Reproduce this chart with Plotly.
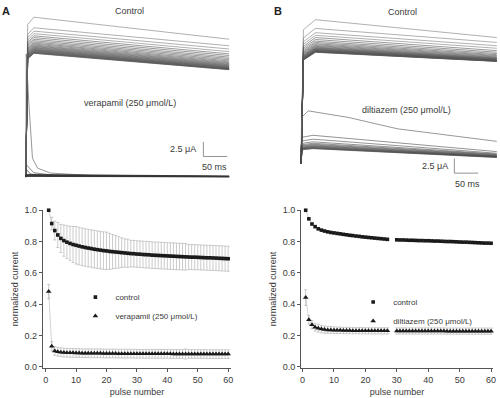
import plotly.graph_objects as go

W, H = 500, 398

def px(x):
    return x / W

def py(y):
    return 1 - y / H

# ---------------- data: normalized current vs pulse number ----------------
pulse = list(range(1, 61))

ctrl_A = [1.000, 0.915, 0.870, 0.842, 0.820, 0.806, 0.796, 0.788, 0.781, 0.776,
          0.771, 0.766, 0.762, 0.758, 0.755, 0.751, 0.748, 0.745, 0.742, 0.740,
          0.737, 0.735, 0.733, 0.731, 0.729, 0.727, 0.725, 0.723, 0.722, 0.720,
          0.719, 0.717, 0.716, 0.715, 0.713, 0.712, 0.711, 0.710, 0.709, 0.708,
          0.707, 0.706, 0.705, 0.704, 0.703, 0.702, 0.701, 0.700, 0.700, 0.699,
          0.698, 0.697, 0.696, 0.696, 0.695, 0.694, 0.693, 0.692, 0.691, 0.690]
ctrl_A_sd = [0.000, 0.040, 0.060, 0.080, 0.090, 0.100, 0.105, 0.110, 0.115, 0.120,
             0.120, 0.120, 0.120, 0.120, 0.120, 0.120, 0.120, 0.120, 0.120, 0.120,
             0.115, 0.110, 0.105, 0.100, 0.095, 0.090, 0.090, 0.085, 0.085, 0.085,
             0.085, 0.085, 0.085, 0.085, 0.085, 0.085, 0.085, 0.085, 0.085, 0.085,
             0.085, 0.085, 0.085, 0.085, 0.085, 0.085, 0.080, 0.080, 0.080, 0.080,
             0.080, 0.080, 0.080, 0.080, 0.080, 0.080, 0.080, 0.080, 0.080, 0.080]
vera = [0.480, 0.130, 0.100, 0.095, 0.092, 0.090, 0.089, 0.088, 0.088, 0.087,
        0.087, 0.086, 0.086, 0.086, 0.085, 0.085, 0.085, 0.085, 0.084, 0.084,
        0.084, 0.084, 0.084, 0.083, 0.083, 0.083, 0.083, 0.083, 0.083, 0.082,
        0.082, 0.082, 0.082, 0.082, 0.082, 0.082, 0.082, 0.082, 0.082, 0.082,
        0.082, 0.081, 0.081, 0.081, 0.081, 0.081, 0.081, 0.081, 0.081, 0.081,
        0.081, 0.081, 0.080, 0.080, 0.080, 0.080, 0.080, 0.080, 0.080, 0.080]
vera_sd = [0.045, 0.030, 0.028, 0.028, 0.028, 0.028, 0.028, 0.028, 0.028, 0.028,
           0.028, 0.028, 0.028, 0.028, 0.028, 0.028, 0.028, 0.028, 0.028, 0.028,
           0.028, 0.028, 0.028, 0.028, 0.028, 0.028, 0.028, 0.028, 0.028, 0.028,
           0.028, 0.028, 0.028, 0.028, 0.028, 0.028, 0.028, 0.028, 0.028, 0.028,
           0.028, 0.028, 0.028, 0.028, 0.028, 0.032, 0.028, 0.028, 0.028, 0.028,
           0.028, 0.028, 0.028, 0.028, 0.028, 0.028, 0.028, 0.028, 0.028, 0.028]

ctrl_B = [1.000, 0.945, 0.912, 0.895, 0.881, 0.873, 0.867, 0.862, 0.858, 0.855,
          0.852, 0.849, 0.846, 0.843, 0.840, 0.838, 0.835, 0.833, 0.830, 0.828,
          0.826, 0.824, 0.822, 0.820, 0.818, 0.816, 0.814, None, None, 0.811,
          0.810, 0.810, 0.809, 0.808, 0.808, 0.807, 0.806, 0.806, 0.805, 0.805,
          0.804, 0.803, 0.803, 0.802, 0.801, 0.800, 0.800, 0.799, 0.798, 0.797,
          0.796, 0.796, 0.795, 0.794, 0.793, 0.792, 0.791, 0.790, 0.790, 0.789]
dilt = [0.442, 0.300, 0.268, 0.252, 0.245, 0.240, 0.237, 0.235, 0.234, 0.233,
        0.232, 0.232, 0.231, 0.231, 0.231, 0.230, 0.230, 0.230, 0.230, 0.229,
        0.229, 0.229, 0.229, 0.229, 0.229, 0.229, 0.229, None, None, 0.228,
        0.228, 0.228, 0.228, 0.228, 0.228, 0.228, 0.228, 0.228, 0.228, 0.228,
        0.228, 0.228, 0.228, 0.228, 0.228, 0.227, 0.227, 0.227, 0.227, 0.227,
        0.227, 0.227, 0.227, 0.227, 0.227, 0.227, 0.227, 0.227, 0.227, 0.227]
dilt_sd = [0.050, 0.028, 0.026, 0.025, 0.025, 0.024, 0.023, 0.022, 0.022, 0.021,
           0.021, 0.021, 0.020, 0.020, 0.020, 0.020, 0.020, 0.020, 0.020, 0.020,
           0.020, 0.020, 0.020, 0.020, 0.020, 0.020, 0.020, None, None, 0.020,
           0.020, 0.020, 0.020, 0.020, 0.020, 0.020, 0.020, 0.020, 0.020, 0.020,
           0.020, 0.020, 0.020, 0.020, 0.020, 0.020, 0.020, 0.020, 0.020, 0.020,
           0.020, 0.020, 0.020, 0.020, 0.020, 0.020, 0.020, 0.020, 0.020, 0.020]

x_ticks = [0, 10, 20, 30, 40, 50, 60]
y_ticks = [0.0, 0.2, 0.4, 0.6, 0.8, 1.0]
y_tick_labels = ["0.0", "0.2", "0.4", "0.6", "0.8", "1.0"]

# ---------------- data: current sweeps (uA) ----------------
A_ctrl_peak = [27.25, 25.45, 24.88, 24.45, 24.08, 23.78, 23.50, 23.25, 23.03, 22.83,
               22.67, 22.50, 22.37, 22.25, 22.13, 22.03, 21.93, 21.83, 21.75, 21.67,
               21.60, 21.53, 21.47, 21.40, 21.33, 21.28, 21.23, 21.18, 21.13, 21.08]
A_ctrl_end = [23.50, 22.38, 21.83, 21.38, 21.00, 20.72, 20.45, 20.22, 20.00, 19.80,
              19.63, 19.48, 19.35, 19.23, 19.13, 19.03, 18.95, 18.87, 18.80, 18.73,
              18.67, 18.62, 18.57, 18.52, 18.47, 18.43, 18.40, 18.37, 18.33, 18.30]
A_end_ms = 427
A_vera_s1_t = [0, 1, 6.3, 14, 25, 52, 156, 427]
A_vera_s1_i = [0, 21.0, 12.7, 3.2, 1.5, 0.67, 0.17, 0.08]
A_vera_s2_t = [0, 1, 17, 73, 427]
A_vera_s2_i = [0, 2.1, 0.72, 0.17, 0.08]
A_vera_s3_t = [0, 1, 10, 40, 427]
A_vera_s3_i = [0, 1.3, 0.5, 0.15, 0.08]
A_vera_rest_start = [0.45, 0.38, 0.32, 0.27, 0.22, 0.18, 0.14, 0.10]
A_vera_rest_end = [0.16, 0.14, 0.12, 0.10, 0.08, 0.06, 0.04, 0.02]

B_ctrl_peak = [24.50, 23.00, 22.28, 21.83, 21.45, 21.12, 20.83, 20.60, 20.40, 20.23,
               20.08, 19.95, 19.83, 19.73, 19.65, 19.57, 19.50, 19.43, 19.37, 19.32,
               19.27, 19.22, 19.17, 19.13, 19.10, 19.07, 19.03, 19.00, 18.97, 18.93]
B_ctrl_end = [21.45, 20.62, 20.05, 19.62, 19.22, 18.95, 18.72, 18.53, 18.38, 18.25,
              18.13, 18.03, 17.95, 17.88, 17.82, 17.77, 17.72, 17.67, 17.63, 17.60,
              17.57, 17.53, 17.50, 17.48, 17.47, 17.45, 17.43, 17.42, 17.40, 17.38]
B_end_ms = 411
B_dilt_s1_t = [0, 1, 15, 99, 203, 307, 411]
B_dilt_s1_i = [0, 7.83, 8.95, 7.83, 5.88, 4.78, 3.75]
B_dilt_peak = [4.78, 4.12, 3.67, 3.42, 3.25, 3.12, 3.00, 2.90, 2.82, 2.73, 2.67, 2.60, 2.55, 2.50]
B_dilt_end = [2.00, 1.72, 1.58, 1.50, 1.42, 1.33, 1.28, 1.23, 1.18, 1.13, 1.10, 1.07, 1.03, 1.00]

SCALE_UA = 2.5
SCALE_MS = 50

# ---------------- styles ----------------
FONT = "Liberation Sans, Arial, sans-serif"
TXT = "#3a3a3a"
AX = "#555555"
TRACE_C = "#555555"

fig = go.Figure()

def sweep(t, i, xa, ya, color=TRACE_C, width=0.6):
    fig.add_trace(go.Scatter(x=t, y=i, mode="lines", xaxis=xa, yaxis=ya,
                             line=dict(color=color, width=width),
                             showlegend=False, hoverinfo="skip"))

for k, (pk, en) in enumerate(zip(A_ctrl_peak, A_ctrl_end)):
    sweep([0, 4, 17, A_end_ms], [0, 0.955 * pk, pk, en], "x", "y",
          "#7a7a7a" if k < 4 else TRACE_C)
sweep(A_vera_s1_t, A_vera_s1_i, "x", "y", "#6a6a6a", 0.7)
sweep(A_vera_s2_t, A_vera_s2_i, "x", "y", "#555555", 0.7)
sweep(A_vera_s3_t, A_vera_s3_i, "x", "y", "#444444", 0.7)
for s, e in zip(A_vera_rest_start, A_vera_rest_end):
    sweep([0, 1, A_end_ms], [0, s, e], "x", "y", "#333333", 0.7)

for k, (pk, en) in enumerate(zip(B_ctrl_peak, B_ctrl_end)):
    sweep([0, 5, 30, B_end_ms], [0, 0.93 * pk, pk, en], "x2", "y2",
          "#7a7a7a" if k < 4 else TRACE_C)
sweep(B_dilt_s1_t, B_dilt_s1_i, "x2", "y2", "#6a6a6a", 0.7)
for pk, en in zip(B_dilt_peak, B_dilt_end):
    sweep([0, 2, 25, B_end_ms], [0, 0.93 * pk, pk, en], "x2", "y2", "#4a4a4a", 0.6)

def scalebar(t0, i0, xa, ya):
    fig.add_trace(go.Scatter(x=[t0, t0, t0 + SCALE_MS], y=[i0 + SCALE_UA, i0, i0],
                             mode="lines", xaxis=xa, yaxis=ya,
                             line=dict(color="#777777", width=0.8),
                             showlegend=False, hoverinfo="skip"))

scalebar(372.9, 3.5, "x", "y")
scalebar(321.9, -1.667, "x2", "y2")

# ---------------- normalized current panels ----------------
EB = dict(type="data", color="#a8a8a8", thickness=0.6, width=1.5)

def conn(y, xa, ya):
    fig.add_trace(go.Scatter(x=pulse, y=y, mode="lines", xaxis=xa, yaxis=ya,
                             line=dict(color="#b5b5b5", width=0.6),
                             showlegend=False, hoverinfo="skip", cliponaxis=False))

conn(ctrl_A, "x3", "y3")
conn(vera, "x3", "y3")
conn(ctrl_B, "x4", "y4")
conn(dilt, "x4", "y4")

fig.add_trace(go.Scatter(x=pulse, y=ctrl_A, mode="markers", name="control",
                         xaxis="x3", yaxis="y3", legend="legend",
                         error_y=dict(array=ctrl_A_sd, **EB),
                         marker=dict(symbol="square", size=3.6, color="#1a1a1a"),
                         cliponaxis=False))
fig.add_trace(go.Scatter(x=pulse, y=vera, mode="markers", name="verapamil (250 μmol/L)",
                         xaxis="x3", yaxis="y3", legend="legend",
                         error_y=dict(array=vera_sd, **EB),
                         marker=dict(symbol="triangle-up", size=5, color="#1a1a1a"),
                         cliponaxis=False))
fig.add_trace(go.Scatter(x=pulse, y=ctrl_B, mode="markers", name="control",
                         xaxis="x4", yaxis="y4", legend="legend2",
                         marker=dict(symbol="square", size=3.6, color="#1a1a1a"),
                         cliponaxis=False))
fig.add_trace(go.Scatter(x=pulse, y=dilt, mode="markers", name="diltiazem (250 μmol/L)",
                         xaxis="x4", yaxis="y4", legend="legend2",
                         error_y=dict(array=dilt_sd, **EB),
                         marker=dict(symbol="triangle-up", size=5, color="#1a1a1a"),
                         cliponaxis=False))

# ---------------- axes ----------------
hidden = dict(visible=False, showgrid=False, zeroline=False)
ax_common = dict(showline=True, linecolor=AX, linewidth=0.8, ticks="outside", ticklen=3,
                 tickwidth=0.8, tickcolor=AX, showgrid=False, zeroline=False,
                 tickfont=dict(family=FONT, size=9, color=TXT))
title_font = dict(family=FONT, size=9, color=TXT)

layout_axes = dict(
    xaxis=dict(domain=[px(20), px(235)], range=[(20 - 25) / 0.48, (235 - 25) / 0.48],
               anchor="y", **hidden),
    yaxis=dict(domain=[py(185), py(5)], range=[(176 - 185) / 6, (176 - 5) / 6],
               anchor="x", **hidden),
    xaxis2=dict(domain=[px(297), px(500)], range=[(297 - 302.5) / 0.48, (500 - 302.5) / 0.48],
                anchor="y2", **hidden),
    yaxis2=dict(domain=[py(190), py(5)], range=[(162 - 190) / 6, (162 - 5) / 6],
                anchor="x2", **hidden),
    xaxis3=dict(domain=[px(42), px(232)], range=[-0.98, 60.98], anchor="y3",
                tickvals=x_ticks, ticklabelstandoff=1,
                title=dict(text="pulse number", standoff=4, font=title_font),
                **ax_common),
    yaxis3=dict(domain=[py(371), py(210)], range=[-0.00625, 1.0], anchor="x3",
                tickvals=y_ticks, ticktext=y_tick_labels,
                title=dict(text="normalized current", standoff=4, font=title_font),
                **ax_common),
    xaxis4=dict(domain=[px(302.5), px(496)], range=[-0.47, 60.63], anchor="y4",
                tickvals=x_ticks, ticklabelstandoff=1,
                title=dict(text="pulse number", standoff=4, font=title_font),
                **ax_common),
    yaxis4=dict(domain=[py(371), py(210)], range=[-0.00625, 1.0], anchor="x4",
                tickvals=y_ticks, ticktext=y_tick_labels,
                title=dict(text="normalized current", standoff=4, font=title_font),
                **ax_common),
)

def ann(text, x, y, size=9, bold=False, xanchor="center", color=TXT):
    return dict(text=("<b>%s</b>" % text) if bold else text, x=px(x), y=py(y),
                xref="paper", yref="paper", showarrow=False, xanchor=xanchor,
                yanchor="middle", font=dict(family=FONT, size=size, color=color))

annotations = [
    ann("A", 5, 6, size=11, bold=True, color="#222"),
    ann("B", 279, 6, size=11, bold=True, color="#222"),
    ann("Control", 130, 6),
    ann("Control", 405, 7),
    ann("verapamil (250 μmol/L)", 130, 100),
    ann("diltiazem (250 μmol/L)", 409, 107),
    ann("2.5 μA", 199, 147, xanchor="right"),
    ann("50 ms", 215, 166),
    ann("2.5 μA", 453, 165, xanchor="right"),
    ann("50 ms", 470, 183),
]

leg_font = dict(family=FONT, size=8, color=TXT)
fig.update_layout(
    width=W, height=H, margin=dict(l=0, r=0, t=0, b=0),
    paper_bgcolor="white", plot_bgcolor="white",
    annotations=annotations,
    legend=dict(x=px(75), y=py(284), xanchor="left", yanchor="top",
                bgcolor="rgba(0,0,0,0)", font=leg_font, tracegroupgap=0),
    legend2=dict(x=px(355), y=py(289), xanchor="left", yanchor="top",
                 bgcolor="rgba(0,0,0,0)", font=leg_font, tracegroupgap=0),
    **layout_axes,
)

fig.write_html("out.html", config={"displayModeBar": False},
               post_script="document.body.style.margin='0px';document.body.style.overflow='hidden';")
